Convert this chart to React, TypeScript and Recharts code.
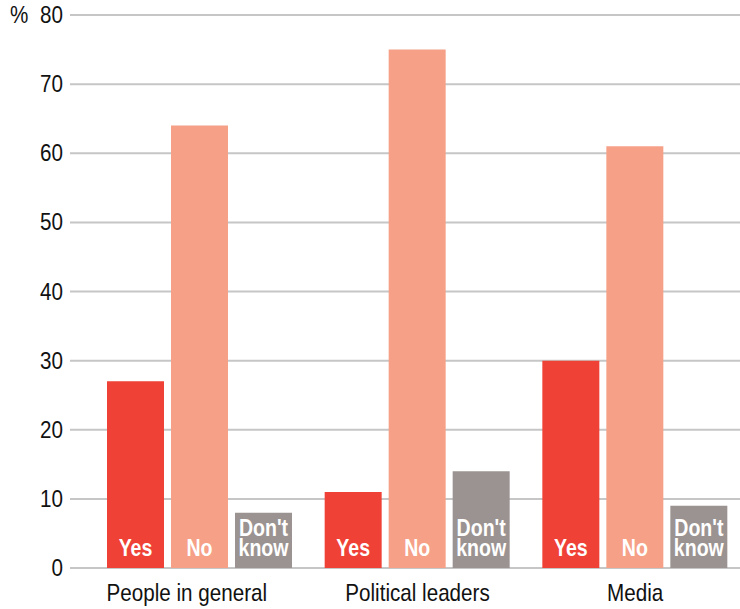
import React from 'react';
import {
  BarChart,
  Bar,
  XAxis,
  YAxis,
  CartesianGrid,
  LabelList,
  Label
} from 'recharts';

const categories = ['People in general', 'Political leaders', 'Media'];
const yesValues = [27, 11, 30];
const noValues = [64, 75, 61];
const dontKnowValues = [8, 14, 9];
const yTicks = [0, 10, 20, 30, 40, 50, 60, 70, 80];

const seriesKeys = ['yes', 'no', 'dk'];
const seriesLabels = [['Yes'], ['No'], ["Don't", 'know']];
const seriesColors = ['#ef4136', '#f6a087', '#9b9391'];

const FONT = '"Liberation Sans", Arial, Helvetica, sans-serif';
// the original uses a condensed grotesque, so squeeze Liberation Sans horizontally
const SQUEEZE = 0.86;

const chartData = categories.map((name, i) => ({
  name,
  yes: yesValues[i],
  no: noValues[i],
  dk: dontKnowValues[i]
}));

const XTick = (props: any) => {
  const { x, y, payload, index } = props;
  // first label sits left-aligned with its first bar in the original
  const shift = index === 0 ? -13 : 0;
  return (
    <g transform={`translate(${x + shift},${y}) scale(${SQUEEZE},1)`}>
      <text x={0} y={0} dy={17} textAnchor="middle" fill="#111" fontSize={24} fontFamily={FONT}>
        {payload.value}
      </text>
    </g>
  );
};

const YTick = (props: any) => {
  const { x, y, payload } = props;
  return (
    <g transform={`translate(${x},${y}) scale(${SQUEEZE},1)`}>
      <text x={0} y={0} dy={8} textAnchor="end" fill="#111" fontSize={24} fontFamily={FONT}>
        {payload.value}
      </text>
    </g>
  );
};

// white text sitting at the foot of each bar
const makeBarLabel = (lines: string[]) => (props: any) => {
  const { x, y, width, height } = props;
  const cx = Number(x) + Number(width) / 2;
  const bottom = Number(y) + Number(height);
  const firstBaseline = bottom - 12 - (lines.length - 1) * 20;
  return (
    <g transform={`translate(${cx},${firstBaseline}) scale(0.85,1)`}>
      <text x={0} y={0} textAnchor="middle" fill="#ffffff" fontFamily={FONT} fontWeight="bold" fontSize={23}>
        {lines.map((line, i) => (
          <tspan key={line} x={0} dy={i === 0 ? 0 : 20}>
            {line}
          </tspan>
        ))}
      </text>
    </g>
  );
};

const App: React.FC = () => {
  return (
    <div style={{ position: 'absolute', left: 0, top: 0, width: 740, height: 609, overflow: 'hidden', background: '#fff' }}>
      <BarChart
        width={750}
        height={609}
        data={chartData}
        margin={{ top: 15, right: 0, bottom: 0, left: 0 }}
        barSize={57}
        barGap={7}
      >
        <CartesianGrid horizontal vertical={false} stroke="#c6c6c6" strokeWidth={2} />
        <XAxis
          dataKey="name"
          axisLine={false}
          tickLine={false}
          tickSize={0}
          tickMargin={16}
          height={41}
          padding={{ left: 21, right: 6 }}
          tick={<XTick />}
        />
        <YAxis
          domain={[0, 80]}
          ticks={yTicks}
          width={70}
          axisLine={false}
          tickLine={false}
          tickSize={0}
          tickMargin={7}
          tick={<YTick />}
        >
          <Label
            content={() => (
              <g transform={`translate(10,23) scale(${SQUEEZE},1)`}>
                <text x={0} y={0} fill="#111" fontSize={24} fontFamily={FONT}>
                  %
                </text>
              </g>
            )}
          />
        </YAxis>
        {seriesKeys.map((key, i) => (
          <Bar key={key} dataKey={key} fill={seriesColors[i]} isAnimationActive={false}>
            <LabelList dataKey={key} content={makeBarLabel(seriesLabels[i])} />
          </Bar>
        ))}
      </BarChart>
    </div>
  );
};

export default App;
